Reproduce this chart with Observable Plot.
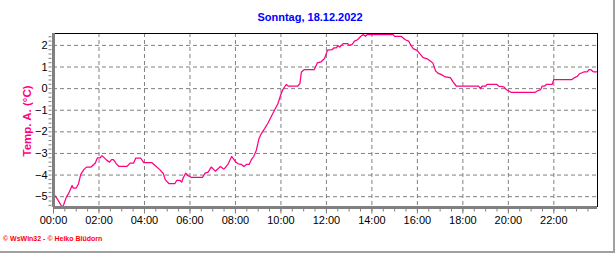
<!DOCTYPE html>
<html>
<head>
<meta charset="utf-8">
<script src="https://cdn.jsdelivr.net/npm/d3@7"></script>
<script src="https://cdn.jsdelivr.net/npm/@observablehq/plot@0.6"></script>
<style>
  html, body { margin: 0; padding: 0; background: #fff; }
  #wrap { position: relative; width: 616px; height: 253px; overflow: hidden; font-family: "Liberation Sans", Arial, sans-serif; }
  #title { position: absolute; left: 0; width: 620px; top: 11px; text-align: center; color: #0000ff; font-weight: bold; font-size: 11px; }
  #ylabel { position: absolute; left: 27px; top: 121px; transform: translate(-50%, -50%) rotate(-90deg); color: #ff0080; font-weight: bold; font-size: 11.5px; white-space: nowrap; }
  #footer { position: absolute; left: 3px; top: 235px; color: #ff0000; font-weight: bold; font-size: 7px; white-space: nowrap; }
  #border { position: absolute; left: 0; top: 0; width: 613px; height: 251px; border-right: 2px solid #a0a0a0; border-bottom: 2px solid #a0a0a0; pointer-events: none; }
  svg { position: absolute; left: 0; top: 0; }
</style>
</head>
<body>
<div id="wrap">
  <div id="chart"></div>
  <div id="title">Sonntag, 18.12.2022</div>
  <div id="ylabel">Temp. A. (°C)</div>
  <div id="footer">© WsWin32 - © Heiko Blüdorn</div>
  <div id="border"></div>
</div>
<script>
const times = ["00:00","00:10","00:23","00:27","00:34","00:40","00:49","00:52","01:00","01:06","01:12","01:20","01:27","01:39","01:50","01:56","02:03","02:08","02:21","02:28","02:33","02:38","02:46","02:53","03:14","03:22","03:31","03:37","03:50","03:58","04:19","04:28","04:41","04:50","04:55","05:05","05:20","05:25","05:34","05:38","05:43","05:49","05:55","06:04","06:33","06:40","06:48","06:56","07:01","07:07","07:14","07:20","07:28","07:31","07:41","07:50","07:55","08:00","08:07","08:16","08:22","08:29","08:36","08:42","08:48","08:55","09:02","09:08","09:17","09:26","09:35","09:43","09:52","09:59","10:05","10:14","10:20","10:44","10:50","10:54","11:02","11:28","11:36","11:46","11:55","12:03","12:15","12:20","12:27","12:30","12:35","12:44","12:56","13:02","13:08","13:14","13:22","13:31","13:37","13:43","13:48","14:56","15:00","15:17","15:28","15:37","15:43","15:49","15:59","16:08","16:15","16:26","16:34","16:41","16:48","16:54","17:02","17:14","17:27","17:34","17:43","18:42","18:46","18:51","19:00","19:04","19:29","19:35","19:48","19:55","20:01","20:07","21:11","21:16","21:25","21:29","21:35","21:41","21:56","22:00","22:48","22:55","23:02","23:08","23:19","23:28","23:33","23:37","23:44","23:53"];
const temps = [-4.87,-5.1,-5.49,-5.36,-5.02,-4.85,-4.48,-4.6,-4.6,-4.4,-3.97,-3.75,-3.63,-3.63,-3.45,-3.2,-3.2,-3.1,-3.32,-3.4,-3.29,-3.29,-3.48,-3.6,-3.6,-3.45,-3.45,-3.21,-3.21,-3.42,-3.42,-3.56,-3.76,-3.94,-4.22,-4.4,-4.4,-4.25,-4.25,-4.33,-4.1,-3.91,-4.03,-4.11,-4.11,-3.91,-3.86,-3.63,-3.71,-3.82,-3.71,-3.6,-3.71,-3.7,-3.48,-3.14,-3.25,-3.38,-3.48,-3.51,-3.6,-3.51,-3.51,-3.29,-3.14,-2.86,-2.32,-2.09,-1.85,-1.59,-1.28,-1.0,-0.7,-0.31,-0.05,0.19,0.11,0.11,0.23,0.77,0.88,0.88,1.19,1.24,1.39,1.78,1.8,1.89,1.89,2.0,1.92,2.08,2.08,2.0,2.05,2.2,2.26,2.42,2.5,2.42,2.5,2.5,2.42,2.42,2.26,2.2,2.0,1.85,1.77,1.58,1.43,1.38,1.28,1.18,0.82,0.72,0.66,0.54,0.51,0.31,0.11,0.11,0.0,0.11,0.11,0.2,0.2,0.11,0.08,-0.05,-0.11,-0.17,-0.17,-0.11,-0.05,0.11,0.11,0.2,0.2,0.42,0.42,0.51,0.57,0.69,0.77,0.77,0.88,0.88,0.78,0.78];
const xTickLabels = ["00:00","02:00","04:00","06:00","08:00","10:00","12:00","14:00","16:00","18:00","20:00","22:00"];
const yTicks = [-5,-4,-3,-2,-1,0,1,2];

const toHours = s => { const [h, m] = s.split(":").map(Number); return h + m / 60; };
const data = times.map((t, i) => ({x: toHours(t), y: temps[i]}));
const xTicks = xTickLabels.map(toHours);
const xMinor = d3.range(0, 24, 0.5);
const yMinor = d3.range(-5.4, 2.55, 0.2).map(v => Math.round(v * 10) / 10);
const xDomain = [0, 23.92];
const yDomain = [-5.5, 2.55];

const plot = Plot.plot({
  width: 616,
  height: 253,
  marginLeft: 53,
  marginRight: 19,
  marginTop: 33,
  marginBottom: 46,
  style: {fontFamily: "'Liberation Sans', Arial, sans-serif", fontSize: "11px", color: "#000", background: "transparent"},
  x: {domain: xDomain, ticks: xTicks, label: null},
  y: {domain: yDomain, ticks: yTicks, label: null},
  marks: [
    Plot.ruleY(yTicks, {stroke: "#808080", strokeDasharray: "4,3", strokeOpacity: 1}),
    Plot.ruleX(xTicks.filter(d => d > 0), {stroke: "#808080", strokeDasharray: "4,3", strokeOpacity: 1}),
    Plot.ruleY([yDomain[1]], {stroke: "#000", strokeWidth: 1}),
    Plot.ruleX([xDomain[1]], {stroke: "#000", strokeWidth: 1}),
    Plot.line(data, {x: "x", y: "y", stroke: "#ff0080", strokeWidth: 1.25, curve: "linear"}),
    Plot.ruleX([xDomain[0]], {stroke: "#808080", strokeWidth: 3}),
    Plot.ruleY([yDomain[0]], {stroke: "#808080", strokeWidth: 3}),
    Plot.axisX({ticks: xMinor, tickSize: 3, tickPadding: 0, text: null, label: null, stroke: "#808080", strokeOpacity: 1, dy: 1.5}),
    Plot.axisX({ticks: xTicks, tickSize: 5, text: null, label: null, stroke: "#808080", strokeOpacity: 1, dy: 1.5}),
    Plot.axisX({ticks: xTicks, tickSize: 0, tickPadding: 9, tickFormat: (d, i) => xTickLabels[i], fill: "#000", label: null}),
    Plot.axisY({ticks: yMinor, tickSize: 3, text: null, label: null, stroke: "#808080", strokeOpacity: 1, dx: -1.5}),
    Plot.axisY({ticks: yTicks, tickSize: 0, tickPadding: 6, fill: "#000", label: null})
  ]
});
document.getElementById("chart").appendChild(plot);
</script>
</body>
</html>
